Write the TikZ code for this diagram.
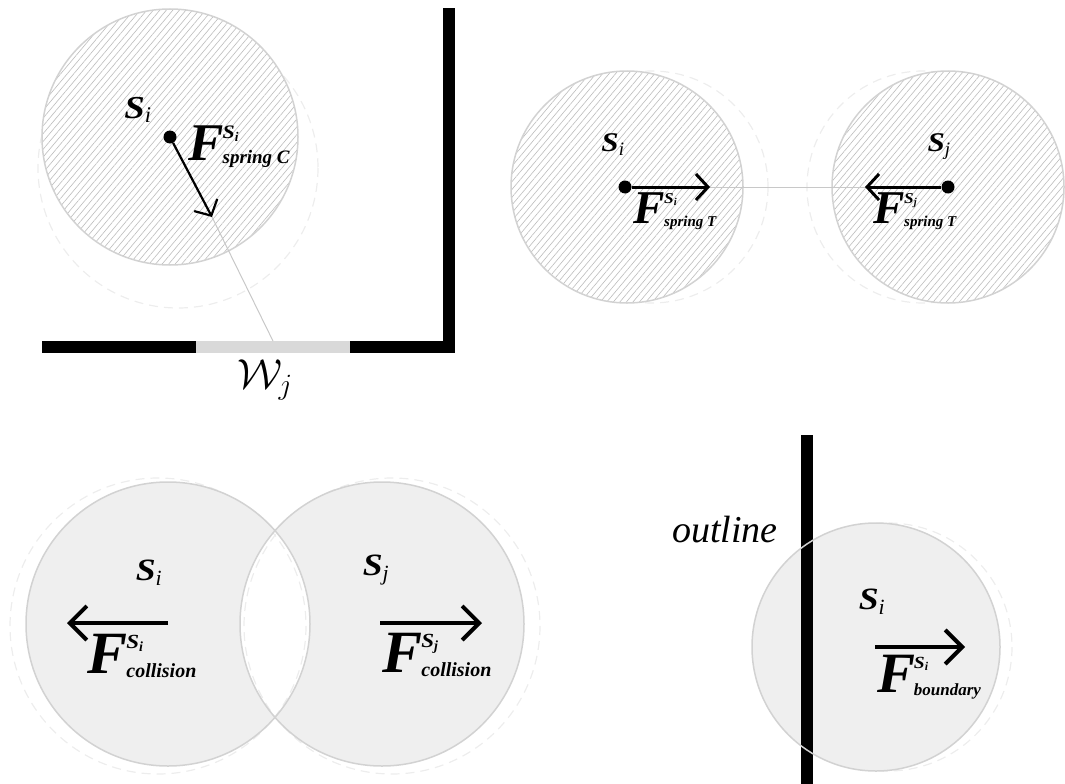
\documentclass[tikz,border=0pt]{standalone}
\usepackage{fix-cm}
\usepackage{fontspec}
\setmainfont{Liberation Serif}
\usepackage{amsmath}
\usepackage{tikz}
\usetikzlibrary{arrows.meta,patterns.meta,positioning}
\definecolor{rimgray}{HTML}{D2D2D2}
\definecolor{diskgray}{HTML}{EFEFEF}
\definecolor{hatchgray}{HTML}{BDBDBD}
\definecolor{gapgray}{HTML}{D9D9D9}
\definecolor{ghostgray}{HTML}{EDEDED}
\definecolor{tethergray}{HTML}{C8C8C8}
\newcommand{\pn}[1]{\scalebox{1.15}[1]{\textbf{\textit{S}}}\textsubscript{\textit{#1}}}
\newcommand{\flab}[4]{\fontsize{#1}{#1}\selectfont\bfseries\itshape F\kern-0.02em\rlap{\raisebox{0.42em}{\fontsize{#3}{#3}\selectfont\upshape\pn{#2}}}\raisebox{-0.06em}{\fontsize{#3}{#3}\selectfont #4}}
\tikzset{
  hatchdisk/.style={draw=rimgray, line width=1.5pt, preaction={fill=white}, pattern={Lines[angle=50,distance=5pt,line width=0.6pt]}, pattern color=hatchgray},
  softdisk/.style={draw=rimgray, line width=1.5pt, fill=diskgray},
  ghost/.style={draw=ghostgray, dash pattern=on 9pt off 6pt, line width=1.2pt},
  wall/.style={draw=black, line width=12.5pt},
  tether/.style={draw=tethergray, line width=1pt},
  hub/.style={circle, fill=black, inner sep=0pt, minimum size=13pt},
  force/.style={-{Straight Barb[length=12pt,width=26pt]}, line width=2.5pt},
  bigforce/.style={-{Straight Barb[length=17pt,width=34pt]}, line width=4pt},
  pname/.style={inner sep=0pt, font=\fontsize{31}{31}\selectfont},
  flabel/.style={inner sep=0pt}
}

\begin{document}
\begin{tikzpicture}[x=1pt, y=-1pt]
  \useasboundingbox (0,0) rectangle (1065,784);

  % spring C
  \draw[ghost] (178,168) circle[radius=140];
  \draw[hatchdisk] (170,137) circle[radius=128];
  \draw[wall, line join=miter] (42,347) -- (449,347) -- (449,8);
  \draw[draw=gapgray, line width=12pt] (196,347) -- (350,347);
  \node[hub] (c-si) at (170,137) {};
  \coordinate (c-tip) at (212,217);
  \coordinate (c-wall) at (273,341);
  \draw[tether] (c-tip) -- (c-wall);
  \draw[force, line width=2.2pt] (c-si) -- (c-tip);
  \node[pname, font=\fontsize{32}{32}\selectfont] (c-name) at (138,110) {\pn{i}};
  \node[flabel] (c-force) at (239,147) {\flab{53}{i}{19}{spring C}};
  \node[inner sep=0pt, font=\fontsize{42}{42}\selectfont] (c-gap) at (265,380) {$\mathcal{W}_j$};

  % spring T
  \draw[ghost] (652,187) circle[radius=116];
  \draw[ghost] (923,187) circle[radius=116];
  \draw[hatchdisk] (627,187) circle[radius=116];
  \draw[hatchdisk] (948,187) circle[radius=116];
  \node[hub] (t-si) at (625,187) {};
  \node[hub] (t-sj) at (948,187) {};
  \coordinate (t-tipi) at (710,187);
  \coordinate (t-tipj) at (865,187);
  \draw[tether] (t-tipi) -- (t-tipj);
  \draw[force, line width=3pt] (t-si) -- (t-tipi);
  \draw[force, line width=3pt] (t-sj) -- (t-tipj);
  \node[pname, font=\fontsize{27}{27}\selectfont] (t-namei) at (613,145) {\pn{i}};
  \node[pname, font=\fontsize{27}{27}\selectfont] (t-namej) at (939,147) {\pn{j}};
  \node[flabel] (t-forcei) at (675,211) {\flab{47}{i}{15}{spring T}};
  \node[flabel] (t-forcej) at (915,211) {\flab{47}{j}{15}{spring T}};

  % collision
  \draw[ghost] (158,626) circle[radius=148];
  \draw[ghost] (392,626) circle[radius=148];
  \filldraw[softdisk, even odd rule] (168,624) circle[radius=142] (382,624) circle[radius=142];
  \coordinate (k-taili) at (168,623);
  \coordinate (k-tipi) at (67,623);
  \coordinate (k-tailj) at (380,623);
  \coordinate (k-tipj) at (482,623);
  \draw[bigforce] (k-taili) -- (k-tipi);
  \draw[bigforce] (k-tailj) -- (k-tipj);
  \node[pname] (k-namei) at (149,573) {\pn{i}};
  \node[pname] (k-namej) at (376,570) {\pn{j}};
  \node[flabel] (k-forcei) at (142,656) {\flab{60}{i}{20}{collision}};
  \node[flabel] (k-forcej) at (437,655) {\flab{60}{j}{20}{collision}};

  % boundary
  \draw[ghost] (888,647) circle[radius=124];
  \fill[diskgray] (876,647) circle[radius=124];
  \draw[wall] (807,435) -- (807,784);
  \draw[draw=rimgray, line width=1.5pt] (876,647) circle[radius=124];
  \coordinate (b-tail) at (875,647);
  \coordinate (b-tip) at (965,647);
  \draw[bigforce] (b-tail) -- (b-tip);
  \node[pname] (b-name) at (872,602) {\pn{i}};
  \node[flabel] (b-force) at (929,677) {\flab{57}{i}{17}{boundary}};
  \node[inner sep=0pt, font=\fontsize{38}{38}\selectfont\itshape] (b-outline) at (725,530) {outline};
\end{tikzpicture}
\end{document}
